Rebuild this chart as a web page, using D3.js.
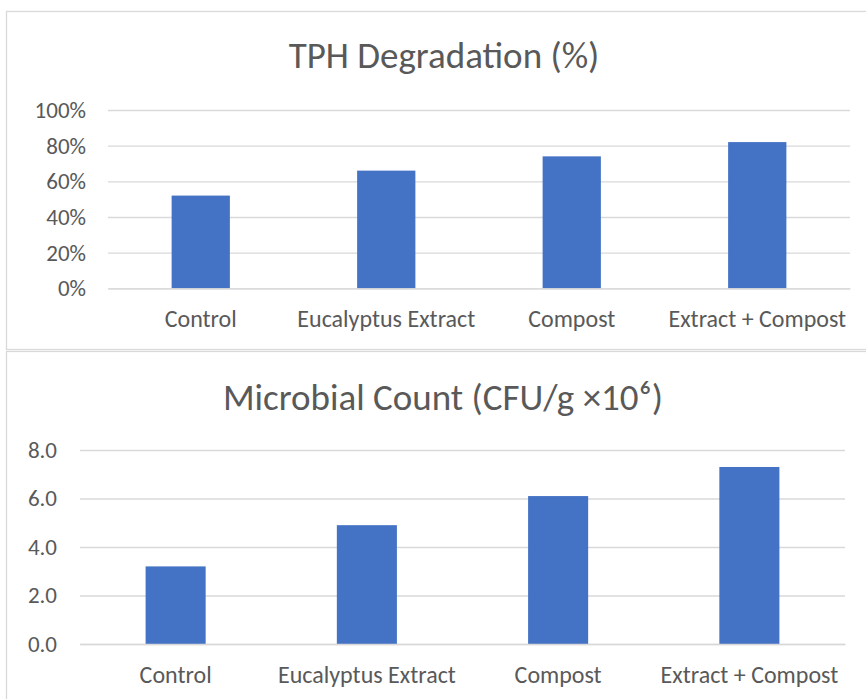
<!DOCTYPE html>
<html><head><meta charset="utf-8">
<script src="https://cdn.jsdelivr.net/npm/d3@7"></script>
<style>
html,body{margin:0;padding:0;background:#fff;}
svg text{font-family:Carlito,Calibri,Lato,"Open Sans",sans-serif;fill:#595959;}
</style></head>
<body>
<svg id="c" width="866" height="699"></svg>
<script>
const categories = ["Control", "Eucalyptus Extract", "Compost", "Extract + Compost"];
const tphValues = [52, 66, 74, 82];
const microbialValues = [3.2, 4.9, 6.1, 7.3];
const tphTicks = [0, 20, 40, 60, 80, 100];
const microbialTicks = [0, 2, 4, 6, 8];
const tphTitle = "TPH Degradation (%)";
const microbialTitle = "Microbial Count (CFU/g \u00d710\u2076)";

const svg = d3.select("#c");
const barColor = "#4472C4";
const gridColor = "#d9d9d9";

function panel(cfg) {
  const g = svg.append("g");
  g.append("rect").attr("x", cfg.box[0]).attr("y", cfg.box[1])
    .attr("width", cfg.box[2]).attr("height", cfg.box[3])
    .attr("fill", "#fff").attr("stroke", gridColor).attr("stroke-width", 1.3);
  g.append("text").attr("x", cfg.titleX).attr("y", cfg.titleY)
    .attr("text-anchor", "middle").style("font-size", cfg.titleSize + "px")
    .text(cfg.title);
  const x = d3.scaleBand().domain(categories).range([cfg.x0, cfg.x1]).paddingInner(0.686).paddingOuter(0.343);
  const y = d3.scaleLinear().domain(cfg.domain).range([cfg.y0, cfg.y1]);
  const yAxis = d3.axisLeft(y).tickValues(cfg.ticks).tickSize(-(cfg.x1 - cfg.x0)).tickPadding(cfg.tickPad).tickFormat(cfg.fmt);
  const ga = g.append("g").attr("transform", `translate(${cfg.x0},0)`).call(yAxis);
  ga.select(".domain").remove();
  ga.selectAll(".tick line").attr("stroke", gridColor).attr("stroke-width", 1.3);
  ga.selectAll(".tick text").style("font-size", "23px").attr("fill", "#595959");
  g.selectAll("rect.bar").data(cfg.values).enter().append("rect").attr("class", "bar")
    .attr("x", (d, i) => x(categories[i]))
    .attr("width", x.bandwidth())
    .attr("y", d => y(d))
    .attr("height", d => y(0) - y(d))
    .attr("fill", barColor);
  const xAxis = d3.axisBottom(x).tickSize(0).tickPadding(cfg.xPad);
  const gx = g.append("g").attr("transform", `translate(0,${cfg.y0})`).call(xAxis);
  gx.select(".domain").attr("stroke", gridColor).attr("stroke-width", 1.3);
  gx.selectAll(".tick text").style("font-size", "24px").attr("fill", "#595959");
}

panel({
  box: [6.5, 11.5, 880, 338], title: tphTitle, titleX: 444, titleY: 68, titleSize: 37,
  x0: 108, x1: 850, y0: 288.3, y1: 110, domain: [0, 100], ticks: tphTicks,
  values: tphValues, fmt: d => d + "%", tickPad: 22, xPad: 22
});
panel({
  box: [6.5, 351.5, 880, 360], title: microbialTitle, titleX: 443, titleY: 410, titleSize: 37,
  x0: 80, x1: 845, y0: 644, y1: 450, domain: [0, 8], ticks: microbialTicks,
  values: microbialValues, fmt: d3.format(".1f"), tickPad: 23, xPad: 22
});
</script>
</body></html>
